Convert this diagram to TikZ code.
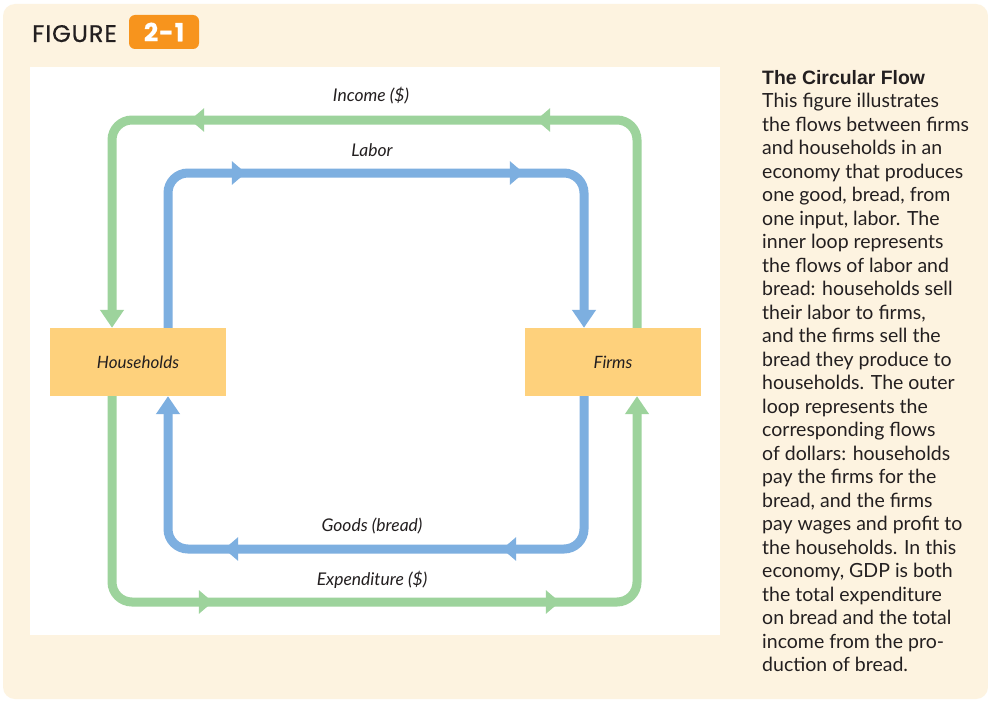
\documentclass[tikz,border=0pt]{standalone}
\usepackage{fontspec}
\usepackage{xcolor}
\usetikzlibrary{arrows.meta,decorations.markings}
\setmainfont{Lato}
\newfontfamily\headfont{Liberation Sans}
\newfontfamily\figfont{Poppins}[FakeBold=0.6, LetterSpace=4]

\definecolor{panelcream}{HTML}{FDF3E0}
\definecolor{figorange}{HTML}{F7941D}
\definecolor{loopgreen}{HTML}{9DD39C}
\definecolor{loopblue}{HTML}{7DAFE0}
\definecolor{boxyellow}{HTML}{FED17C}
\definecolor{textdark}{HTML}{231F20}

\tikzset{
  sector/.style={fill=boxyellow, minimum width=176pt, minimum height=68pt,
    inner sep=0pt, font=\fontsize{17}{20}\selectfont\itshape, text=textdark},
  flowlabel/.style={anchor=base, inner sep=0pt,
    font=\fontsize{17.5}{20}\selectfont\itshape, text=textdark},
  loop/.style={line width=9pt, rounded corners=20pt,
    -{Triangle[width=23pt,length=18pt]}},
  midarrows/.style 2 args={postaction={decorate}, decoration={markings,
    mark=at position #1 with {\arrow{Triangle[width=23pt,length=14pt]}},
    mark=at position #2 with {\arrow{Triangle[width=23pt,length=14pt]}}}}
}

\begin{document}
\begin{tikzpicture}[x=1pt, y=-1pt]
        \useasboundingbox (0,0) rectangle (988,701);
        % panel and plot area
        \fill[white] (0,0) rectangle (988,701);
        \fill[panelcream, rounded corners=12pt] (3,4) rectangle (988,699);
        \fill[white] (30,67) rectangle (720,635);
        % figure number
        \node[anchor=base west, inner sep=0pt, text=textdark,
              font=\figfont\fontsize{24}{26}\selectfont] (figword) at (32,42) {FIGURE};
        \node[fill=figorange, rounded corners=6pt, minimum width=70pt, minimum height=34pt,
              inner sep=0pt, text=white, font=\figfont\bfseries\fontsize{25}{26}\selectfont]
              (fignum) at (164,32) {2-1};
        % sectors
        \node[sector] (hh) at (138,362) {Households};
        \node[sector] (fm) at (613,362) {Firms};
        % loop corners
        \coordinate (gL) at (112,120);
        \coordinate (gR) at (637,602);
        \coordinate (bL) at (168,173);
        \coordinate (bR) at (584,549);
        % outer loop (dollars)
        \draw[loop, loopgreen, midarrows={300pt}{646pt}]
              (fm.north -| gR) |- (gL) -- (hh.north -| gL);
        \draw[loop, loopgreen, midarrows={298pt}{645pt}]
              (hh.south -| gL) |- (gR) -- (fm.south -| gR);
        % inner loop (labor and bread)
        \draw[loop, loopblue, midarrows={224pt}{502pt}]
              (hh.north -| bL) |- (bR |- bL) -- (fm.north -| bR);
        \draw[loop, loopblue, midarrows={226pt}{504pt}]
              (fm.south -| bR) |- (bL |- bR) -- (hh.south -| bL);
        % loop labels
        \node[flowlabel] (income) at (371,102) {Income (\$)};
        \node[flowlabel] (labor) at (372,156) {Labor};
        \node[flowlabel] (goods) at (372,531) {Goods (bread)};
        \node[flowlabel] (spend) at (372,585) {Expenditure (\$)};
        % caption
        \node[anchor=north west, inner sep=0pt, align=left, text=textdark,
              font=\fontsize{19.5}{23.5}\selectfont] (caption) at (762,70)
              {{\headfont\bfseries\fontsize{19.4}{23.5}\selectfont The Circular Flow}\\
               This figure illustrates\\
               the flows between firms\\
               and households in an\\
               economy that produces\\
               one good, bread, from\\
               one input, labor. The\\
               inner loop represents\\
               the flows of labor and\\
               bread: households sell\\
               their labor to firms,\\
               and the firms sell the\\
               bread they produce to\\
               households. The outer\\
               loop represents the\\
               corresponding flows\\
               of dollars: households\\
               pay the firms for the\\
               bread, and the firms\\
               pay wages and profit to\\
               the households. In this\\
               economy, GDP is both\\
               the total expenditure\\
               on bread and the total\\
               income from the pro-\\
               duction of bread.};
\end{tikzpicture}
\end{document}
